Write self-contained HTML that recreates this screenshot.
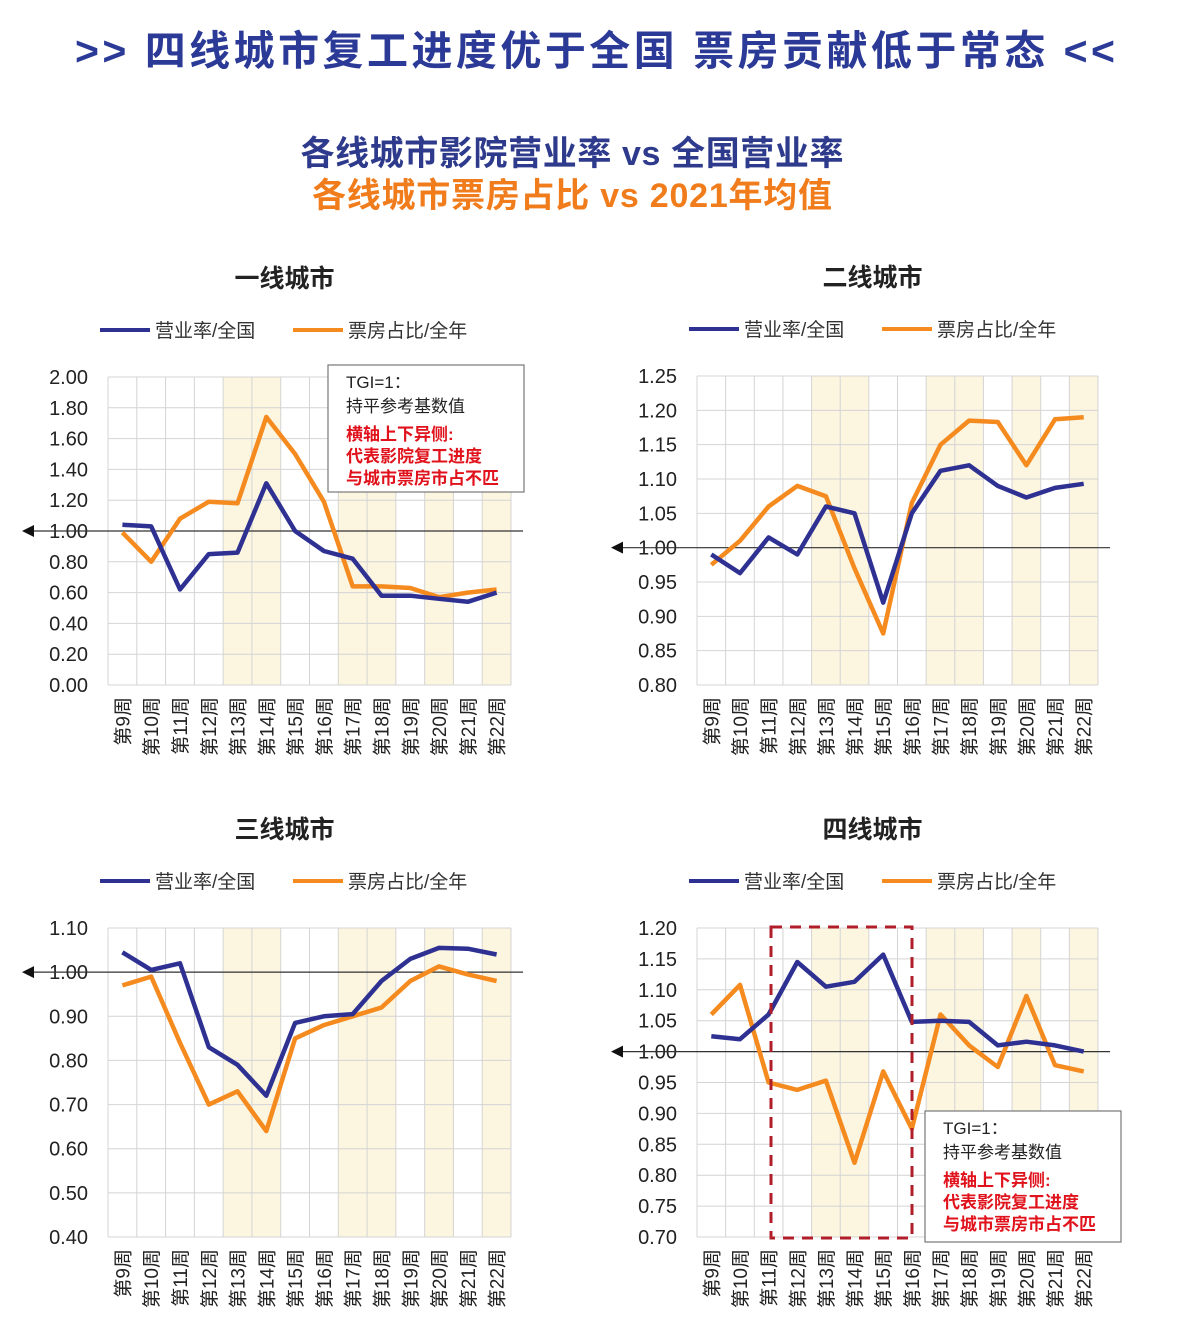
<!DOCTYPE html>
<html><head><meta charset="utf-8">
<style>
body{margin:0;background:#fff;width:1204px;height:1318px;overflow:hidden;font-family:"Liberation Sans","Noto Sans CJK SC",sans-serif;}
svg{position:absolute;left:0;top:0;}
</style></head>
<body>
<svg id="main" width="1204" height="1318" viewBox="0 0 1204 1318">
<text x="595" y="65" text-anchor="middle" font-size="41" font-weight="bold" fill="#2b3a96" textLength="1040" font-family="Liberation Sans,Noto Sans CJK SC,sans-serif">&gt;&gt; 四线城市复工进度优于全国 票房贡献低于常态 &lt;&lt;</text>
<text x="572" y="165" text-anchor="middle" font-size="34" font-weight="bold" fill="#2e3a8c" textLength="543" font-family="Liberation Sans,Noto Sans CJK SC,sans-serif">各线城市影院营业率 vs 全国营业率</text>
<text x="572" y="207" text-anchor="middle" font-size="34" font-weight="bold" fill="#f07c1c" textLength="520" font-family="Liberation Sans,Noto Sans CJK SC,sans-serif">各线城市票房占比 vs 2021年均值</text>
</svg>
<script>
const categories=["第9周","第10周","第11周","第12周","第13周","第14周","第15周","第16周","第17周","第18周","第19周","第20周","第21周","第22周"];
const shadedIdx=[4,5,8,9,11,13];
const tier1Blue=[1.04,1.03,0.62,0.85,0.86,1.31,1.00,0.87,0.82,0.58,0.58,0.56,0.54,0.60];
const tier1Orange=[0.99,0.80,1.08,1.19,1.18,1.74,1.50,1.19,0.64,0.64,0.63,0.57,0.60,0.62];
const tier1Ticks=["0.00","0.20","0.40","0.60","0.80","1.00","1.20","1.40","1.60","1.80","2.00"];
const tier2Blue=[0.99,0.963,1.015,0.99,1.06,1.05,0.92,1.05,1.112,1.12,1.09,1.073,1.087,1.093];
const tier2Orange=[0.975,1.01,1.06,1.09,1.075,0.97,0.875,1.065,1.15,1.185,1.183,1.12,1.187,1.19];
const tier2Ticks=["0.80","0.85","0.90","0.95","1.00","1.05","1.10","1.15","1.20","1.25"];
const tier3Blue=[1.045,1.005,1.02,0.83,0.79,0.72,0.885,0.90,0.905,0.98,1.03,1.055,1.053,1.04];
const tier3Orange=[0.97,0.99,0.84,0.70,0.73,0.64,0.85,0.88,0.90,0.92,0.98,1.013,0.995,0.98];
const tier3Ticks=["0.40","0.50","0.60","0.70","0.80","0.90","1.00","1.10"];
const tier4Blue=[1.025,1.02,1.06,1.145,1.105,1.113,1.157,1.048,1.05,1.048,1.01,1.016,1.01,1.0];
const tier4Orange=[1.06,1.108,0.95,0.938,0.953,0.82,0.968,0.875,1.06,1.01,0.975,1.09,0.978,0.968];
const tier4Ticks=["0.70","0.75","0.80","0.85","0.90","0.95","1.00","1.05","1.10","1.15","1.20"];

const NS="http://www.w3.org/2000/svg";
const svg=document.getElementById('main');
const FONT='Liberation Sans,Noto Sans CJK SC,sans-serif';
function mk(tag,attrs,parent){const e=document.createElementNS(NS,tag);for(const k in attrs)e.setAttribute(k,attrs[k]);(parent||svg).appendChild(e);return e;}

function drawChart(cfg){
  const g=mk('g',{});
  
  
  const {x0,x1,y0,y1,ticks,blue,orange,title}=cfg;
  const vmin=parseFloat(ticks[0]),vmax=parseFloat(ticks[ticks.length-1]);
  const n=categories.length,cw=(x1-x0)/n;
  const xS=i=>x0+cw*(i+0.5);
  const yS=v=>y1-(v-vmin)/(vmax-vmin)*(y1-y0);
  const cx=(x0+x1)/2;
  const t=mk('text',{x:cx-25,y:y0-90,'text-anchor':'middle','font-size':25,'font-weight':'bold',fill:'#222','font-family':FONT},g);
  t.textContent=title;
  
  
  const ly=y0-47;
  const lb=mk('line',{x1:x0-8,y1:ly,x2:x0+42,y2:ly,stroke:'#2e3192','stroke-width':4},g);
  
  
  const lt=mk('text',{x:x0+47,y:ly+7,'font-size':19,fill:'#333','font-family':FONT},g);
  lt.textContent='营业率/全国';
  
  
  const lo=mk('line',{x1:x0+185,y1:ly,x2:x0+235,y2:ly,stroke:'#f58a1f','stroke-width':4},g);
  
  
  const lot=mk('text',{x:x0+240,y:ly+7,'font-size':19,fill:'#333','font-family':FONT},g);
  lot.textContent='票房占比/全年';
  
  
  shadedIdx.forEach(i=>{
    const r=mk('rect',{x:x0+cw*i,y:y0,width:cw,height:y1-y0,fill:'#fcf5e0'},g);
    
    
  });
  for(let i=0;i<=n;i++){mk('line',{x1:x0+cw*i,y1:y0,x2:x0+cw*i,y2:y1,stroke:'#d4d4d4','stroke-width':1},g);}
  ticks.forEach(tk=>{
    const y=yS(parseFloat(tk));
    mk('line',{x1:x0,y1:y,x2:x1,y2:y,stroke:'#d4d4d4','stroke-width':1},g);
    const tx=mk('text',{x:x0-20,y:y+7,'text-anchor':'end','font-size':20,fill:'#222','font-family':FONT},g);
    tx.textContent=tk;
    
    
  });
  categories.forEach((c,i)=>{
    const tx=mk('text',{x:0,y:0,'text-anchor':'end','font-size':19,fill:'#222','font-family':FONT,transform:`translate(${xS(i)+7},${y1+12}) rotate(-90)`},g);
    tx.textContent=c;
    
    
  });
  const by=yS(1);
  const bl=mk('line',{x1:x0-80,y1:by,x2:x1+12,y2:by,stroke:'#333','stroke-width':1.2},g);
  
  
  mk('polygon',{points:`${x0-86},${by} ${x0-74},${by-6} ${x0-74},${by+6}`,fill:'#111'},g);
  const path=arr=>arr.map((v,i)=>(i?'L':'M')+xS(i).toFixed(1)+','+yS(v).toFixed(1)).join(' ');
  const po=mk('path',{d:path(orange),fill:'none',stroke:'#f58a1f','stroke-width':4.5,'stroke-linejoin':'round'},g);
  
  
  const pb=mk('path',{d:path(blue),fill:'none',stroke:'#2e3192','stroke-width':4.5,'stroke-linejoin':'round'},g);
  
  
  return g;
}
function noteBox(x,y,w,h){
  const g=mk('g',{});
  
  
  mk('rect',{x:x,y:y,width:w,height:h,fill:'#fff',stroke:'#777','stroke-width':1.2},g);
  const lines=[['TGI=1：','#222'],['持平参考基数值','#222'],['横轴上下异侧:','#e0121b'],['代表影院复工进度','#e0121b'],['与城市票房市占不匹','#e0121b']];
  const ys=[23,47,75,97,119];
  lines.forEach((l,i)=>{
    const t=mk('text',{x:x+18,y:y+ys[i],'font-size':17,fill:l[1],'font-weight':i>1?'bold':'normal','font-family':FONT},g);
    t.textContent=l[0];
  });
}
drawChart({name:'chart-tier1',title:'一线城市',x0:108,x1:511,y0:377,y1:685,ticks:tier1Ticks,blue:tier1Blue,orange:tier1Orange});
drawChart({name:'chart-tier2',title:'二线城市',x0:697,x1:1098,y0:376,y1:685,ticks:tier2Ticks,blue:tier2Blue,orange:tier2Orange});
drawChart({name:'chart-tier3',title:'三线城市',x0:108,x1:511,y0:928,y1:1237,ticks:tier3Ticks,blue:tier3Blue,orange:tier3Orange});
drawChart({name:'chart-tier4',title:'四线城市',x0:697,x1:1098,y0:928,y1:1237,ticks:tier4Ticks,blue:tier4Blue,orange:tier4Orange});
noteBox(328,365,196,127);
const dash=mk('rect',{x:771,y:927,width:141,height:311,fill:'none',stroke:'#b01e2a','stroke-width':3,'stroke-dasharray':'11,8'});


noteBox(925,1111,196,131);
</script>
</body></html>
